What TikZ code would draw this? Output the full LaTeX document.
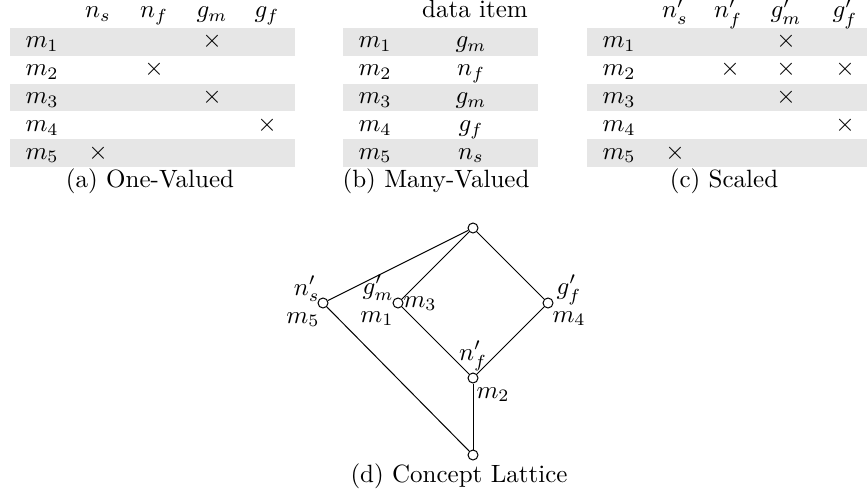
\documentclass[tikz,border=0pt]{standalone}
\definecolor{bandgray}{RGB}{230,230,230}
\begin{document}
\begin{tikzpicture}[x=0.4pt,y=-0.4pt,
  cell/.style={anchor=base,inner sep=0pt},
  rowlab/.style={anchor=base west,inner sep=0pt},
  band/.style={fill=bandgray,draw=none},
  lnode/.style={circle,draw,fill=white,minimum size=4pt,inner sep=0pt},
  lab/.style={inner sep=0pt},
  edge/.style={draw,line width=0.4pt}]
\useasboundingbox (0,0) rectangle (867,500);
% bands
\foreach \t in {28,83.6,139.2}{
  \fill[band] (10,\t) rectangle (295,\t+27.8);
  \fill[band] (343,\t) rectangle (538,\t+27.8);
  \fill[band] (587,\t) rectangle (867,\t+27.8);
}
% ---------- (a) ----------
\node[cell] (ah1) at (98,18) {$n_s$};
\node[cell] (ah2) at (154,18) {$n_f$};
\node[cell] (ah3) at (212,18) {$g_m$};
\node[cell] (ah4) at (267,18) {$g_f$};
\foreach \i/\b in {1/48,2/75.8,3/103.6,4/131.4,5/159.2}{
  \node[rowlab] (ar\i) at (25,\b) {$m_\i$};
  \node[rowlab] (br\i) at (358,\b) {$m_\i$};
  \node[rowlab] (cr\i) at (602,\b) {$m_\i$};
}
\node[cell] (ax1) at (212,48) {$\times$};
\node[cell] (ax2) at (154,75.8) {$\times$};
\node[cell] (ax3) at (212,103.6) {$\times$};
\node[cell] (ax4) at (267,131.4) {$\times$};
\node[cell] (ax5) at (98,159.2) {$\times$};
\node[cell] (acap) at (150,187) {(a) One-Valued};
% ---------- (b) ----------
\node[cell] (bh) at (475,18) {data item};
\node[cell] (bd1) at (471,48) {$g_m$};
\node[cell] (bd2) at (471,75.8) {$n_f$};
\node[cell] (bd3) at (471,103.6) {$g_m$};
\node[cell] (bd4) at (471,131.4) {$g_f$};
\node[cell] (bd5) at (471,159.2) {$n_s$};
\node[cell] (bcap) at (436,187) {(b) Many-Valued};
% ---------- (c) ----------
\node[cell] (ch1) at (675,18) {$n'_s$};
\node[cell] (ch2) at (728,18) {$n'_f$};
\node[cell] (ch3) at (786,18) {$g'_m$};
\node[cell] (ch4) at (845,18) {$g'_f$};
\node[cell] (cx1) at (786,48) {$\times$};
\node[cell] (cx2a) at (730,75.8) {$\times$};
\node[cell] (cx2b) at (786,75.8) {$\times$};
\node[cell] (cx2c) at (845,75.8) {$\times$};
\node[cell] (cx3) at (786,103.6) {$\times$};
\node[cell] (cx4) at (845,131.4) {$\times$};
\node[cell] (cx5) at (675,159.2) {$\times$};
\node[cell] (ccap) at (724,187) {(c) Scaled};
% ---------- (d) lattice ----------
\node[lnode] (top) at (473,228) {};
\node[lnode] (ns) at (323,303) {};
\node[lnode] (gm) at (398,303) {};
\node[lnode] (gf) at (548,303) {};
\node[lnode] (nf) at (473,378) {};
\node[lnode] (bot) at (473,455) {};
\draw[edge] (top) -- (ns);
\draw[edge] (top) -- (gm);
\draw[edge] (top) -- (gf);
\draw[edge] (ns) -- (bot);
\draw[edge] (gm) -- (nf);
\draw[edge] (gf) -- (nf);
\draw[edge] (nf) -- (bot);
\node[lab,anchor=base east] (lns) at (320,295) {$n'_s$};
\node[lab,anchor=base east] (lm5) at (320,323) {$m_5$};
\node[lab,anchor=base east] (lgm) at (394,294) {$g'_m$};
\node[lab,anchor=base east] (lm1) at (394,322) {$m_1$};
\node[lab,anchor=base west] (lm3) at (403,307) {$m_3$};
\node[lab,anchor=base west] (lgf) at (556,294) {$g'_f$};
\node[lab,anchor=base west] (lm4) at (552,322) {$m_4$};
\node[lab,anchor=base] (lnf) at (473,360) {$n'_f$};
\node[lab,anchor=base west] (lm2) at (476,398) {$m_2$};
\node[cell] (dcap) at (459,482) {(d) Concept Lattice};
\end{tikzpicture}
\end{document}
